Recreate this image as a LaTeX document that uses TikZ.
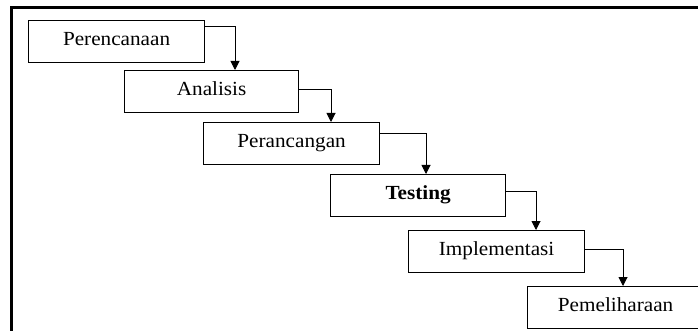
\documentclass[tikz,border=0pt]{standalone}
\usepackage{fontspec}
\setmainfont{Liberation Serif}[FakeStretch=1.06]
\usetikzlibrary{arrows.meta,calc}
\begin{document}
\begin{tikzpicture}[x=1pt,y=-1pt,
  stepbox/.style={draw=black,line width=1.2pt,anchor=north west,minimum width=176pt,minimum height=42pt,inner sep=0pt,font=\fontsize{20}{22}\selectfont,text depth=6pt},
  arr/.style={draw=black,line width=1pt,-{Triangle[width=9pt,length=9pt]}}]
\useasboundingbox (0,0) rectangle (698,331);
\clip (0,0) rectangle (698,331);
\fill[white] (0,0) rectangle (698,331);
\draw[line width=2.2pt] (11.5,331) -- (11.5,7.5) -- (698,7.5);
\node[stepbox] (b1) at (28,20) {Perencanaan};
\node[stepbox,minimum width=174pt] (b2) at (124,70) {Analisis};
\node[stepbox] (b3) at (203,122) {Perancangan};
\node[stepbox,minimum width=175pt] (b4) at (330,174) {\textbf{Testing}};
\node[stepbox] (b5) at (408,230) {Implementasi};
\node[stepbox] (b6) at (527,286) {Pemeliharaan};
\draw[arr] ([yshift=-7pt]b1.north east) -| ([xshift=111pt]b2.north west);
\draw[arr] ([yshift=-20pt]b2.north east) -| ([xshift=128pt]b3.north west);
\draw[arr] ([yshift=-12pt]b3.north east) -| ([xshift=96pt]b4.north west);
\draw[arr] ([yshift=-17pt]b4.north east) -| ([xshift=128pt]b5.north west);
\draw[arr] ([yshift=-19pt]b5.north east) -| ([xshift=96pt]b6.north west);
\end{tikzpicture}
\end{document}
